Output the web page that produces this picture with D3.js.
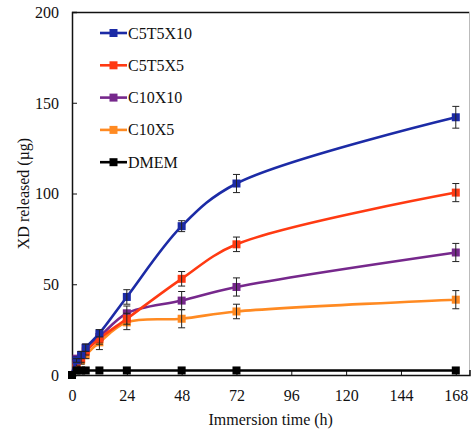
<!DOCTYPE html>
<html>
<head>
<meta charset="utf-8">
<script src="https://cdn.jsdelivr.net/npm/d3@7"></script>
<style>
  html, body { margin: 0; padding: 0; background: #fff; }
  svg { display: block; }
  svg text { font-family: "Liberation Serif", "DejaVu Serif", "Times New Roman", Times, serif !important; fill: #111; }
</style>
</head>
<body>
<svg id="chart" width="471" height="434"></svg>
<script>
// ---- data ----
const times = [0, 2, 4, 6, 12, 24, 48, 72, 168];
const seriesNames = ["C5T5X10", "C5T5X5", "C10X10", "C10X5", "DMEM"];
const C5T5X10 = [0, 8, 11, 15, 23, 43, 82, 105.5, 142];
const C5T5X10_err = [0, 1, 2, 2, 2, 4, 3, 5, 6];
const C5T5X5 = [0, 6, 9, 13, 20, 31, 53, 72, 100.5];
const C5T5X5_err = [0, 1, 2, 2, 3, 3, 4, 4, 5];
const C10X10 = [0, 9, 11, 15, 21, 34, 41, 48.5, 67.5];
const C10X10_err = [0, 1, 2, 2, 3, 4, 5, 5, 5];
const C10X5 = [0, 5, 8, 11, 18, 29, 31, 35, 41.5];
const C10X5_err = [0, 1, 2, 2, 4, 4, 5, 4, 5];
const DMEM = [0, 2.5, 2.5, 2.5, 2.5, 2.5, 2.5, 2.5, 2.5];
const DMEM_err = [0, 0, 0, 0, 0, 0, 0, 0, 0];
const xTicks = [0, 24, 48, 72, 96, 120, 144, 168];
const yTicks = [0, 50, 100, 150, 200];
const colors = ["#1c2ba6", "#ff3a12", "#76288c", "#ff8a22", "#000000"];

const seriesValues = [C5T5X10, C5T5X5, C10X10, C10X5, DMEM];
const seriesErr = [C5T5X10_err, C5T5X5_err, C10X10_err, C10X5_err, DMEM_err];

// ---- layout ----
const FONT = "'Liberation Serif', 'DejaVu Serif', 'Times New Roman', Times, serif";
const svg = d3.select("#chart").attr("font-family", FONT);
const L = 72, R = 469.5, T = 12, B = 375;
const x = d3.scaleLinear().domain([0, 174]).range([L, R]);
const y = d3.scaleLinear().domain([0, 200]).range([B, T]);

// frame (top, right)
svg.append("line").attr("x1", L).attr("x2", R).attr("y1", T + 0.5).attr("y2", T + 0.5)
  .attr("stroke", "#111").attr("stroke-width", 1.5);
svg.append("line").attr("x1", R).attr("x2", R).attr("y1", T).attr("y2", B)
  .attr("stroke", "#bbb").attr("stroke-width", 1);

// axes with inward ticks
const yAxis = d3.axisRight(y).tickValues(yTicks).tickSize(5).tickFormat(d3.format("d"));
const gy = svg.append("g").attr("transform", `translate(${L},0)`).call(yAxis)
  .attr("font-family", FONT).attr("font-size", 16);
gy.select(".domain").attr("stroke", "#111").attr("stroke-width", 1.5);
gy.selectAll(".tick line").attr("stroke", "#111");
gy.selectAll(".tick text").attr("x", -13).attr("text-anchor", "end")
  .attr("dy", "0.33em");

const xAxis = d3.axisTop(x).tickValues(xTicks).tickSize(5).tickFormat(d3.format("d"));
const gx = svg.append("g").attr("transform", `translate(0,${B})`).call(xAxis)
  .attr("font-family", FONT).attr("font-size", 16);
gx.select(".domain").attr("stroke", "#111").attr("stroke-width", 1.5);
gx.selectAll(".tick line").attr("stroke", "#111");
gx.selectAll(".tick text").attr("y", 26).attr("dy", 0).attr("text-anchor", "middle");
svg.selectAll(".domain").attr("fill", "none");

// axis titles
svg.append("text").attr("x", (L + R) / 2).attr("y", 425).attr("text-anchor", "middle")
  .attr("font-size", 16).text("Immersion time (h)");
svg.append("text").attr("transform", `translate(29,${(T + B) / 2}) rotate(-90)`)
  .attr("text-anchor", "middle").attr("font-size", 16).text("XD released (µg)");

// series
const line = d3.line().x(d => x(d.t)).y(d => y(d.v)).curve(d3.curveCatmullRom.alpha(0.5));
const order = [3, 2, 1, 0, 4];
order.forEach(i => {
  const pts = times.map((t, j) => ({ t, v: seriesValues[i][j], e: seriesErr[i][j] }));
  const g = svg.append("g");
  g.append("path").datum(pts).attr("d", line).attr("fill", "none")
    .attr("stroke", colors[i]).attr("stroke-width", 2.6);
  g.selectAll("rect").data(pts).enter().append("rect")
    .attr("x", d => x(d.t) - 4).attr("y", d => y(d.v) - 4)
    .attr("width", 8).attr("height", 8).attr("fill", colors[i]);
  const eb = g.selectAll("g.eb").data(pts.filter(d => d.e > 0)).enter().append("g");
  eb.append("line").attr("x1", d => x(d.t)).attr("x2", d => x(d.t))
    .attr("y1", d => y(d.v - d.e)).attr("y2", d => y(d.v + d.e))
    .attr("stroke", "#222").attr("stroke-width", 1);
  eb.append("line").attr("x1", d => x(d.t) - 3.5).attr("x2", d => x(d.t) + 3.5)
    .attr("y1", d => y(d.v + d.e)).attr("y2", d => y(d.v + d.e))
    .attr("stroke", "#222").attr("stroke-width", 1);
  eb.append("line").attr("x1", d => x(d.t) - 3.5).attr("x2", d => x(d.t) + 3.5)
    .attr("y1", d => y(d.v - d.e)).attr("y2", d => y(d.v - d.e))
    .attr("stroke", "#222").attr("stroke-width", 1);
});

// legend
const leg = svg.append("g");
seriesNames.forEach((name, i) => {
  const cy = 33 + i * 32.3;
  leg.append("line").attr("x1", 100).attr("x2", 127).attr("y1", cy).attr("y2", cy)
    .attr("stroke", colors[i]).attr("stroke-width", 2.6);
  leg.append("rect").attr("x", 109.5).attr("y", cy - 4).attr("width", 8).attr("height", 8)
    .attr("fill", colors[i]);
  leg.append("text").attr("x", 128).attr("y", cy + 5.5).attr("font-size", 16).text(name);
});
</script>
</body>
</html>
